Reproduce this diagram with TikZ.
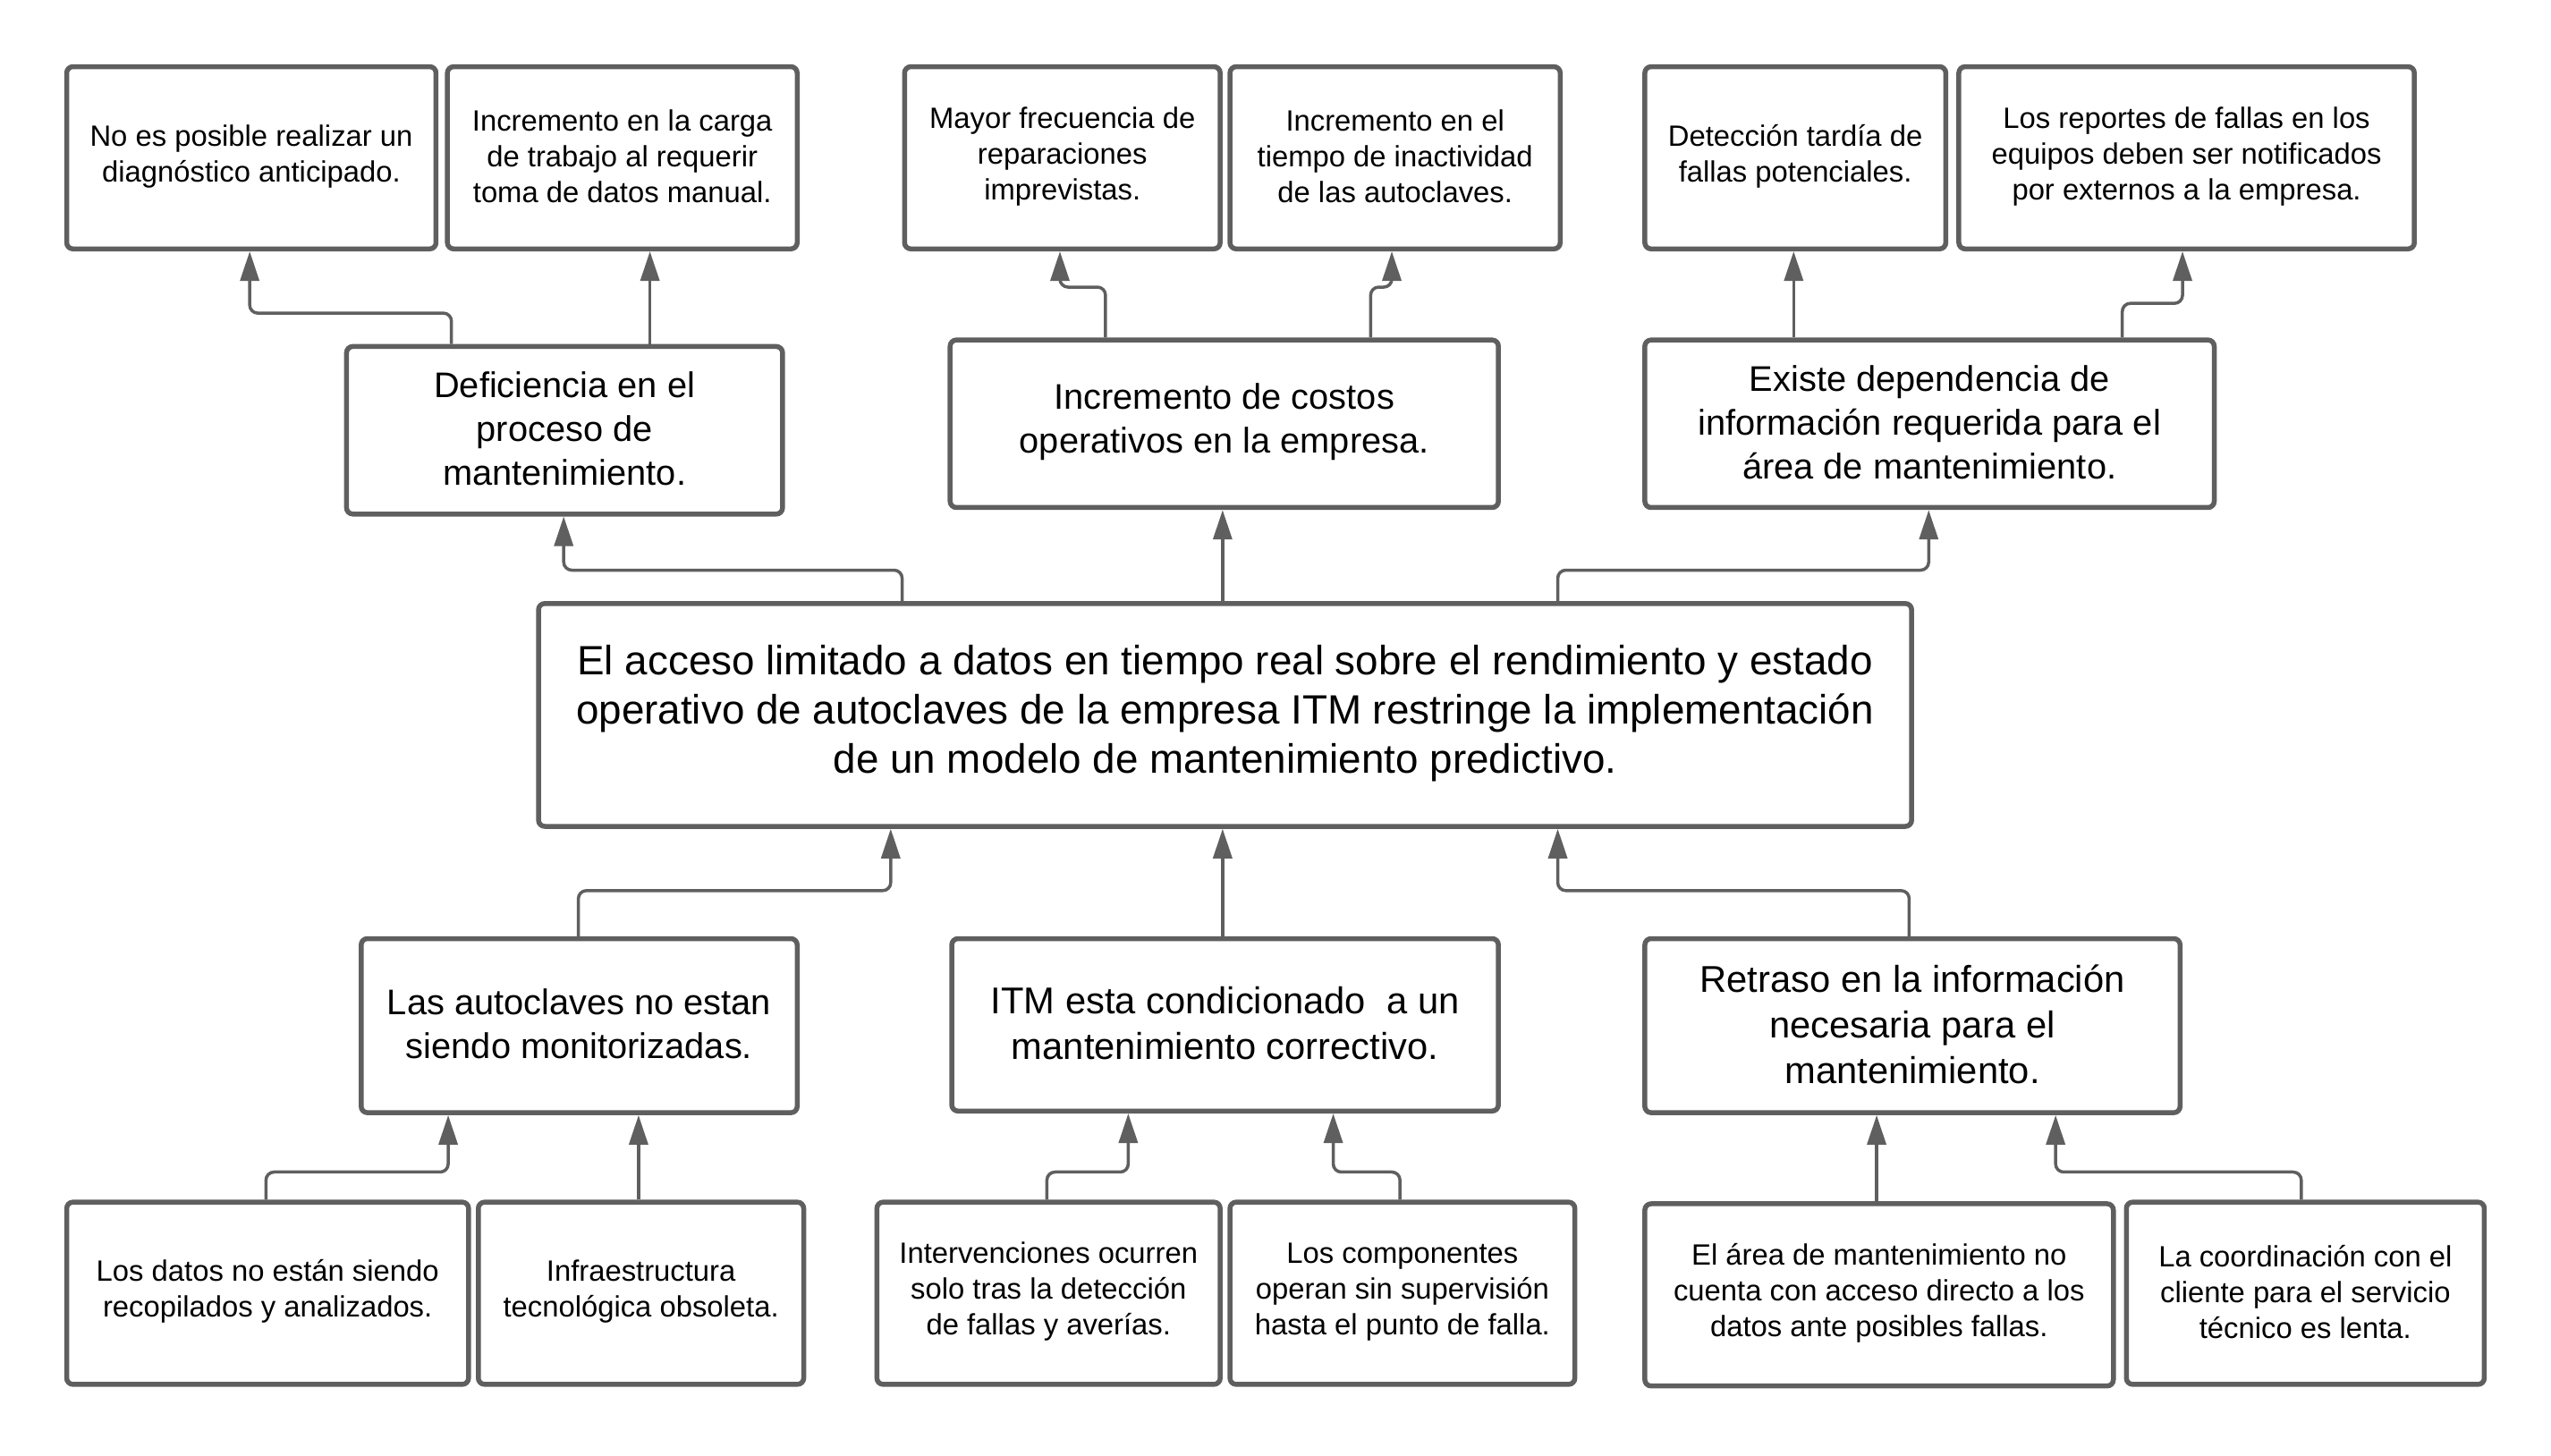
\documentclass[tikz,border=0pt]{standalone}
\usepackage{fontspec}
\setmainfont{Liberation Sans}
\usetikzlibrary{arrows.meta,fit,calc}
\definecolor{lc}{HTML}{5F5F5F}
\newcommand\mybox[5]{%
  \node[bx, fit={#2 #3}] (#1) {};
  \node[#4] (t#1) at ($(#1.center)+(0,-1)$) {#5};}
\begin{document}
\begin{tikzpicture}[x=1.8189pt,y=-1.8189pt,
 bx/.style={draw=lc, line width=5.5pt, rounded corners=7pt, inner sep=0pt, fill=white},
 small/.style={align=center, inner sep=0pt, font=\fontsize{32.8}{40}\selectfont},
 mid/.style={align=center, inner sep=0pt, font=\fontsize{39.8}{49}\selectfont},
 midl/.style={align=center, inner sep=0pt, font=\fontsize{41.7}{51}\selectfont},
 big/.style={align=center, inner sep=0pt, font=\fontsize{45.8}{55}\selectfont},
 arr/.style={draw=lc, line width=3.5pt, rounded corners=9pt, -{Triangle[length=33pt,width=21pt]}}]
\useasboundingbox (0,0) rectangle (1568,895);
% top row
\mybox{A1}{(41,41)}{(268,153)}{small}{No es posible realizar un\\diagnóstico anticipado.}
\mybox{A2}{(275,41)}{(490,153)}{small}{Incremento en la carga\\de trabajo al requerir\\toma de datos manual.}
\mybox{B1}{(556,41)}{(750,153)}{small}{Mayor frecuencia de\\reparaciones\\imprevistas.}
\mybox{B2}{(756,41)}{(959,153)}{small}{Incremento en el\\tiempo de inactividad\\de las autoclaves.}
\mybox{C1}{(1011,41)}{(1196,153)}{small}{Detección tardía de\\fallas potenciales.}
\mybox{C2}{(1204,41)}{(1484,153)}{small}{Los reportes de fallas en los\\equipos deben ser notificados\\por externos a la empresa.}
% second row
\mybox{A}{(213,213)}{(481,316)}{mid}{Deficiencia en el\\proceso de\\mantenimiento.}
\mybox{B}{(584,209)}{(921,312)}{mid}{Incremento de costos\\operativos en la empresa.}
\mybox{C}{(1011,209)}{(1361,312)}{mid}{Existe dependencia de\\información requerida para el\\área de mantenimiento.}
% main
\mybox{M}{(331,371)}{(1175,508)}{big}{El acceso limitado a datos en tiempo real sobre el rendimiento y estado\\operativo de autoclaves de la empresa ITM restringe la implementación\\de un modelo de mantenimiento predictivo.}
% lower middle row
\mybox{D}{(222,577)}{(490,684)}{mid}{Las autoclaves no estan\\siendo monitorizadas.}
\mybox{E}{(585,577)}{(921,683)}{midl}{ITM esta condicionado\ \ a un\\mantenimiento correctivo.}
\mybox{F}{(1011,577)}{(1340,684)}{midl}{Retraso en la información\\necesaria para el\\mantenimiento.}
% bottom row
\mybox{D1}{(41,739)}{(288,851)}{small}{Los datos no están siendo\\recopilados y analizados.}
\mybox{D2}{(294,739)}{(494,851)}{small}{Infraestructura\\tecnológica obsoleta.}
\mybox{E1}{(539,739)}{(750,851)}{small}{Intervenciones ocurren\\solo tras la detección\\de fallas y averías.}
\mybox{E2}{(756,739)}{(968,851)}{small}{Los componentes\\operan sin supervisión\\hasta el punto de falla.}
\mybox{F1}{(1011,740)}{(1299,852)}{small}{El área de mantenimiento no\\cuenta con acceso directo a los\\datos ante posibles fallas.}
\mybox{F2}{(1307,739)}{(1527,851)}{small}{La coordinación con el\\cliente para el servicio\\técnico es lenta.}
% connectors top
\draw[arr] ($(A.north west)+(66,0)$) -- ++(0,-19) -| ($(A1.south west)+(114,0)$);
\draw[arr] ($(A.north west)+(188,0)$) -- ($(A2.south west)+(126,0)$);
\draw[arr] ($(B.north west)+(97,0)$) -- ++(0,-31) -| ($(B1.south west)+(97,0)$);
\draw[arr] ($(B.north west)+(260,0)$) -- ++(0,-31) -| ($(B2.south west)+(101,0)$);
\draw[arr] ($(C.north west)+(93,0)$) -- ($(C1.south west)+(93,0)$);
\draw[arr] ($(C.north west)+(295,0)$) -- ++(0,-21) -| ($(C2.south west)+(139,0)$);
% main to second row
\draw[arr] ($(M.north west)+(225,0)$) -- ++(0,-19) -| ($(A.south west)+(135,0)$);
\draw[arr] ($(M.north west)+(422,0)$) -- ($(B.south west)+(169,0)$);
\draw[arr] ($(M.north west)+(628,0)$) -- ++(0,-19) -| ($(C.south west)+(176,0)$);
% lower middle to main
\draw[arr] ($(D.north west)+(135,0)$) -- ++(0,-28) -| ($(M.south west)+(218,0)$);
\draw[arr] ($(E.north west)+(168,0)$) -- ($(M.south west)+(422,0)$);
\draw[arr] ($(F.north west)+(164,0)$) -- ++(0,-28) -| ($(M.south west)+(628,0)$);
% bottom to lower middle
\draw[arr] ($(D1.north west)+(124,0)$) -- ++(0,-17) -| ($(D.south west)+(55,0)$);
\draw[arr] ($(D2.north west)+(100,0)$) -- ($(D.south west)+(172,0)$);
\draw[arr] ($(E1.north west)+(106,0)$) -- ++(0,-17) -| ($(E.south west)+(110,0)$);
\draw[arr] ($(E2.north west)+(106,0)$) -- ++(0,-17) -| ($(E.south west)+(236,0)$);
\draw[arr] ($(F1.north west)+(144,0)$) -- ($(F.south west)+(144,0)$);
\draw[arr] ($(F2.north west)+(109,0)$) -- ++(0,-17) -| ($(F.south west)+(254,0)$);
\end{tikzpicture}
\end{document}
